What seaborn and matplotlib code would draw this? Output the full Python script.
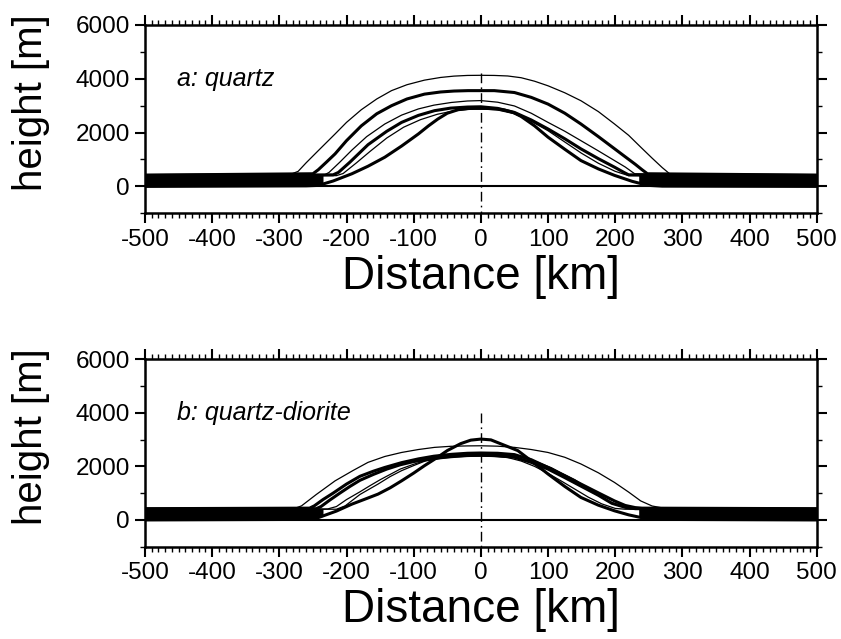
import numpy as np
import pandas as pd
import matplotlib
matplotlib.use("Agg")
import matplotlib.pyplot as plt
from matplotlib.ticker import MultipleLocator
import seaborn as sns

# ---------------- data ----------------
# Panel a: quartz  (x in km, height in m)
a1_x = [-500, -281, -272, -260, -242, -217, -200, -178, -155, -133, -110, -84, -60, -40, -20, 0,
        20, 40, 60, 80, 100, 125, 149, 175, 199, 220, 238, 255, 270, 281, 500]
a1_h = [440, 470, 560, 880, 1330, 1950, 2380, 2850, 3250, 3560, 3780, 3950, 4050, 4100, 4125, 4130,
        4125, 4105, 4040, 3910, 3740, 3480, 3185, 2780, 2320, 1900, 1460, 1050, 700, 470, 440]

a2_x = [-500, -250, -242, -230, -217, -200, -178, -155, -133, -110, -84, -60, -40, -19, 0,
        20, 50, 75, 100, 125, 149, 175, 199, 215, 230, 240, 248, 500]
a2_h = [420, 470, 620, 900, 1210, 1700, 2250, 2700, 3000, 3250, 3430, 3510, 3545, 3560, 3560,
        3560, 3490, 3310, 3060, 2720, 2320, 1850, 1400, 1100, 820, 620, 470, 420]

a3_x = [-500, -232, -226, -210, -192, -170, -143, -118, -93, -70, -44, -20, 0,
        25, 50, 75, 100, 125, 149, 175, 199, 215, 229, 500]
a3_h = [400, 440, 520, 900, 1350, 1850, 2320, 2650, 2880, 3020, 3120, 3175, 3190,
        3130, 2990, 2720, 2380, 2050, 1700, 1320, 960, 720, 470, 400]

a4_x = [-500, -220, -212, -195, -168, -140, -118, -93, -69, -45, -20, 0,
        25, 50, 75, 100, 125, 149, 175, 199, 213, 220, 500]
a4_h = [380, 430, 520, 900, 1550, 2050, 2380, 2640, 2815, 2910, 2950, 2960,
        2900, 2750, 2470, 2135, 1770, 1395, 1030, 715, 520, 430, 380]

a5_x = [-500, -215, -205, -185, -165, -140, -115, -90, -65, -40, -15, 0,
        25, 50, 75, 100, 125, 150, 175, 200, 220, 500]
a5_h = [360, 400, 480, 880, 1300, 1800, 2200, 2480, 2680, 2810, 2870, 2880,
        2840, 2700, 2420, 2070, 1650, 1230, 860, 560, 400, 360]

a6_x = [-500, -260, -242, -220, -192, -168, -143, -118, -93, -78, -64, -50, -34, -20, -10, 0,
        10, 22, 35, 48, 60, 80, 100, 125, 149, 175, 199, 225, 248, 270, 500]
a6_h = [0, 20, 37, 200, 470, 750, 1085, 1500, 1950, 2250, 2505, 2720, 2850, 2895, 2900, 2900,
        2900, 2885, 2840, 2750, 2600, 2250, 1830, 1380, 960, 650, 410, 190, 40, 10, 0]

a_curves = [(a1_x, a1_h, "thin"), (a2_x, a2_h, "thick"), (a3_x, a3_h, "thin"),
            (a4_x, a4_h, "thick"), (a5_x, a5_h, "thin"), (a6_x, a6_h, "thick")]

a_band_left_x = [-500, -400, -300, -275, -250, -235]
a_band_left_top = [420, 430, 450, 470, 470, 420]
a_band_left_bot = [0, 0, 0, 0, 20, 110]
a_band_right_x = [235, 250, 280, 300, 400, 500]
a_band_right_top = [420, 470, 470, 460, 440, 430]
a_band_right_bot = [110, 40, 0, 0, 0, 0]

a_center_h = [4200, -1000]

# Panel b: quartz-diorite
b1_x = [-500, -275, -267, -245, -217, -190, -168, -143, -118, -93, -69, -45, -20, 0,
        25, 50, 75, 100, 125, 149, 175, 199, 220, 238, 255, 268, 500]
b1_h = [430, 450, 525, 950, 1460, 1850, 2150, 2370, 2520, 2630, 2710, 2750, 2765, 2770,
        2755, 2710, 2630, 2520, 2340, 2090, 1760, 1400, 1040, 710, 520, 460, 430]

b2_x = [-500, -260, -242, -215, -192, -170, -153, -135, -118, -100, -84, -65, -50, -30, -15, 0,
        15, 30, 55, 78, 100, 125, 149, 175, 199, 220, 239, 260, 500]
b2_h = [0, 20, 86, 330, 590, 800, 965, 1200, 1460, 1750, 2025, 2330, 2590, 2850, 2980, 3020,
        2990, 2840, 2590, 2150, 1715, 1250, 840, 550, 340, 190, 86, 20, 0]

b3_x = [-500, -255, -248, -235, -220, -200, -180, -160, -143, -118, -93, -70, -44, -20, 0,
        25, 50, 75, 100, 125, 149, 175, 199, 215, 230, 240, 500]
b3_h = [420, 440, 525, 760, 1000, 1340, 1630, 1820, 1960, 2140, 2280, 2380, 2450, 2490, 2500,
        2490, 2440, 2250, 1960, 1650, 1340, 1010, 710, 540, 460, 440, 420]

b4_x = [-500, -245, -238, -225, -210, -195, -180, -160, -140, -120, -100, -75, -50, -25, 0,
        25, 50, 75, 100, 125, 150, 175, 195, 215, 230, 500]
b4_h = [400, 420, 500, 740, 1000, 1250, 1480, 1700, 1900, 2060, 2180, 2280, 2350, 2400, 2420,
        2400, 2340, 2150, 1900, 1580, 1250, 920, 620, 470, 420, 400]

b5_x = [-500, -215, -202, -180, -153, -135, -118, -100, -83, -60, -40, -20, 0,
        20, 40, 60, 80, 100, 120, 140, 160, 180, 200, 215, 500]
b5_h = [380, 400, 525, 950, 1340, 1620, 1840, 2030, 2200, 2300, 2350, 2375, 2380,
        2370, 2330, 2200, 2000, 1740, 1450, 1150, 850, 600, 430, 400, 380]

b6_x = [-500, -228, -215, -200, -180, -165, -150, -135, -120, -100, -85, -65, -50, -25, 0,
        25, 50, 70, 85, 105, 120, 140, 155, 175, 190, 208, 222, 500]
b6_h = [390, 410, 500, 760, 1050, 1280, 1500, 1700, 1900, 2080, 2200, 2320, 2400, 2440, 2450,
        2440, 2400, 2280, 2150, 1950, 1750, 1500, 1250, 950, 700, 520, 420, 390]

b_curves = [(b1_x, b1_h, "thin"), (b2_x, b2_h, "thick"), (b3_x, b3_h, "thick"),
            (b4_x, b4_h, "thick"), (b5_x, b5_h, "thin"), (b6_x, b6_h, "thin")]

b_band_left_x = [-500, -400, -300, -275, -250, -235]
b_band_left_top = [420, 430, 450, 470, 470, 420]
b_band_left_bot = [0, 0, 0, 0, 40, 130]
b_band_right_x = [235, 250, 270, 300, 400, 500]
b_band_right_top = [420, 460, 460, 450, 430, 420]
b_band_right_bot = [110, 40, 0, 0, 0, 0]

b_center_h = [4000, -1000]

panel_labels = ["a: quartz", "b: quartz-diorite"]
x_ticks = [-500, -400, -300, -200, -100, 0, 100, 200, 300, 400, 500]
y_ticks = [0, 2000, 4000, 6000]
x_label = "Distance [km]"
y_label = "height [m]"

# ---------------- styling ----------------
sns.set_style("ticks")
plt.rcParams["font.family"] = ["Liberation Sans", "DejaVu Sans"]
plt.rcParams["axes.unicode_minus"] = False
plt.rcParams["text.color"] = "black"
plt.rcParams["axes.labelcolor"] = "black"
plt.rcParams["xtick.color"] = "black"
plt.rcParams["ytick.color"] = "black"

fig = plt.figure(figsize=(8.41, 6.39), dpi=100)
ax_a = fig.add_axes([145 / 841, 1 - 213.3 / 639, 671.7 / 841, 188.3 / 639])
ax_b = fig.add_axes([145 / 841, 1 - 546.7 / 639, 671.7 / 841, 187.4 / 639])

lw = {"thin": 0.9, "thick": 2.2}

def draw_panel(ax, curves, bl, br, center_h, label, ylab_y):
    for xs, hs, kind in curves:
        df = pd.DataFrame({"x": xs, "h": hs})
        sns.lineplot(data=df, x="x", y="h", ax=ax, color="black",
                     linewidth=lw[kind], estimator=None, sort=False)
    for bx, btop, bbot in (bl, br):
        ax.fill_between(bx, bbot, btop, color="black", linewidth=0)
    ax.axhline(0, color="black", linewidth=1.5)
    ax.plot([0, 0], center_h, color="black", linewidth=1.0,
            linestyle=(0, (7, 3, 1.2, 3)))
    ax.set_xlim(-500, 500)
    ax.set_ylim(-1000, 6000)
    ax.xaxis.set_major_locator(MultipleLocator(100))
    ax.xaxis.set_minor_locator(MultipleLocator(10))
    ax.yaxis.set_major_locator(MultipleLocator(2000))
    ax.yaxis.set_minor_locator(MultipleLocator(1000))
    ax.set_xticks(x_ticks)
    ax.set_yticks(y_ticks)
    ax.tick_params(axis="both", which="major", direction="out", length=7,
                   width=1.5, labelsize=17.5, pad=4, colors="black")
    ax.tick_params(axis="both", which="minor", direction="out", length=3.5,
                   width=1.0, colors="black")
    ax.tick_params(top=True, right=True, which="both")
    ax.tick_params(labeltop=False, labelright=False)
    for s in ax.spines.values():
        s.set_linewidth(1.8)
        s.set_color("black")
    ax.set_xlabel(x_label, fontsize=33, labelpad=3)
    ax.set_ylabel(y_label, fontsize=29)
    ax.yaxis.set_label_coords(-0.141, ylab_y)
    ax.text(-452, 3750, label, fontsize=18, style="italic",
            ha="left", va="baseline")

draw_panel(ax_a, a_curves, (a_band_left_x, a_band_left_top, a_band_left_bot),
           (a_band_right_x, a_band_right_top, a_band_right_bot), a_center_h, panel_labels[0], 0.59)
draw_panel(ax_b, b_curves, (b_band_left_x, b_band_left_top, b_band_left_bot),
           (b_band_right_x, b_band_right_top, b_band_right_bot), b_center_h, panel_labels[1], 0.585)

fig.savefig("out.png", dpi=100)
